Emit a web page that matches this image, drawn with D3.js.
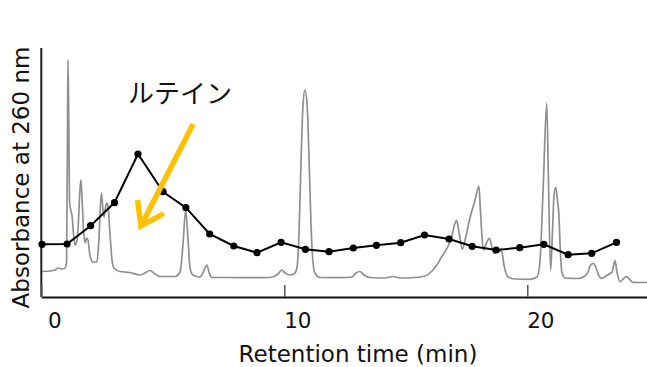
<!DOCTYPE html>
<html>
<head>
<meta charset="utf-8">
<script src="https://cdn.jsdelivr.net/npm/d3@7"></script>
<style>
  html, body { margin: 0; padding: 0; background: #fff; }
  svg { display: block; font-family: "DejaVu Sans", Verdana, sans-serif; }
</style>
</head>
<body>
<div class="chart"></div>
<script>
// chromatogram (gray trace): retention time (min) / absorbance (a.u.)
const traceTime = [0.03, 0.36, 0.56, 0.69, 0.85, 0.98, 1.04, 1.08, 1.10, 1.13, 1.16, 1.21, 1.26, 1.35, 1.39, 1.47, 1.51, 1.59, 1.63, 1.67,
  1.74, 1.80, 1.86, 1.92, 2.00, 2.13, 2.29, 2.37, 2.47, 2.52, 2.58, 2.64, 2.69, 2.74, 2.83, 2.91, 2.99, 3.24, 3.65, 4.06,
  4.27, 4.47, 4.68, 4.88, 5.50, 5.71, 5.83, 5.94, 6.04, 6.12, 6.24, 6.53, 6.65, 6.81, 6.90, 7.02, 7.77, 8.59, 9.41, 9.74,
  9.89, 10.03, 10.23, 10.40, 10.52, 10.61, 10.69, 10.77, 10.85, 10.94, 11.02, 11.10, 11.18, 11.26, 11.47, 12.29, 12.79, 12.95, 13.11, 13.28,
  13.53, 14.14, 14.47, 14.76, 15.38, 15.79, 16.08, 16.28, 16.48, 16.70, 16.89, 17.00, 17.09, 17.19, 17.33, 17.44, 17.64, 17.85, 18.01, 18.07,
  18.19, 18.30, 18.44, 18.55, 18.64, 18.79, 18.95, 19.04, 19.22, 19.49, 20.11, 20.40, 20.52, 20.65, 20.80, 20.87, 20.96, 21.04, 21.10, 21.17,
  21.24, 21.30, 21.35, 21.42, 21.55, 22.09, 22.33, 22.50, 22.58, 22.72, 22.83, 22.95, 23.06, 23.24, 23.36, 23.49, 23.61, 23.69, 23.82, 23.94,
  24.09, 24.23, 24.35, 24.93];
const traceAbs = [25.5, 26, 27, 29, 28, 29, 35, 177, 237, 177, 97, 87, 82, 57, 52, 57, 67, 107, 117, 102,
  67, 54, 59, 57, 42, 35, 35, 57, 104, 92, 80, 89, 94, 92, 62, 37, 29, 25.5, 24.5, 22,
  24, 26.5, 23, 20.5, 20.5, 25, 52, 87, 57, 29, 22, 20, 24, 32, 25, 19.5, 19.5, 19.3, 19.5, 23,
  27, 24, 22, 23, 29, 67, 137, 192, 207, 192, 137, 72, 35, 24, 19.5, 19.3, 20, 24, 25.5, 22,
  19.5, 19, 20.5, 19, 19.5, 21, 26, 32, 40.3, 49, 60.3, 72, 76.3, 65, 47.7, 57, 79, 97, 111, 87,
  47, 53, 58.7, 49, 43.7, 46, 45.3, 32, 19.7, 18, 17.7, 20, 35, 107, 193.7, 117, 27, 67, 102, 109.7,
  97, 82, 52, 25, 19, 18.5, 20.3, 25, 31, 33.7, 29, 21, 18.7, 21, 22.7, 25, 36.3, 25, 15.3, 18,
  20.3, 17, 14.7, 14.5];

// fractions (black line with dots)
const fracTime = [0.03, 1.06, 2.03, 3.01, 3.98, 5.01, 5.95, 6.93, 7.92, 8.88, 9.87, 10.87, 11.84, 12.84, 13.79, 14.79, 15.77, 16.78, 17.73,
  18.72, 19.69, 20.68, 21.68, 22.65, 23.67];
const fracValue = [52.7, 53, 71.3, 94.3, 143, 105.3, 89.3, 63, 51, 44.3, 54.7, 47.7, 45.3, 49, 51.7, 54.3, 62, 58, 50.7,
  47, 49.3, 52.7, 42.3, 43.7, 54.7];

const xTicks = [0, 10, 20];
const xDomain = [0, 25];
const yDomain = [0, 249];

const xTitle = 'Retention time (min)';
const yTitle = 'Absorbance at 260 nm';
const peakLabel = 'ルテイン';
// arrow: start / tip in data units
const arrowFrom = [6.25, 173];
const arrowTo = [4.1, 71];

const width = 647, height = 367;
const svg = d3.select('.chart').append('svg')
  .attr('width', width)
  .attr('height', height);

const x = d3.scaleLinear().domain(xDomain).range([41.3, 648.8]);
const y = d3.scaleLinear().domain(yDomain).range([297, 48]);

// gray chromatogram
const trace = traceTime.map((t, i) => [t, traceAbs[i]]);
svg.append('path')
  .datum(trace)
  .attr('fill', 'none')
  .attr('stroke', '#8f8f8f')
  .attr('stroke-width', 1.7)
  .attr('d', d3.line().x(d => x(d[0])).y(d => y(d[1])).curve(d3.curveMonotoneX));

// y axis line (no ticks)
svg.append('line')
  .attr('x1', x(0)).attr('x2', x(0))
  .attr('y1', y(yDomain[1])).attr('y2', y(0))
  .attr('stroke', '#222')
  .attr('stroke-width', 2);

// x axis, ticks point up into the plot
const xAxis = d3.axisBottom(x)
  .tickValues(xTicks)
  .tickSizeInner(-12)
  .tickSizeOuter(0)
  .tickPadding(16);

const gx = svg.append('g')
  .attr('transform', `translate(0,${y(0)})`)
  .call(xAxis);
gx.select('.domain').attr('stroke', '#111').attr('stroke-width', 2.2);
gx.selectAll('.tick line').attr('stroke', '#555').attr('stroke-width', 1.5);
gx.selectAll('.tick text')
  .attr('dx', 13)
  .attr('fill', '#111')
  .style('font-size', '21.5px')
  .style('font-family', '"DejaVu Sans", Verdana, sans-serif');

// fraction line + dots
const frac = fracTime.map((t, i) => [t, fracValue[i]]);
svg.append('path')
  .datum(frac)
  .attr('fill', 'none')
  .attr('stroke', '#000')
  .attr('stroke-width', 2)
  .attr('d', d3.line().x(d => x(d[0])).y(d => y(d[1])));

svg.selectAll('circle.dot')
  .data(frac)
  .enter()
  .append('circle')
  .attr('class', 'dot')
  .attr('cx', d => x(d[0]))
  .attr('cy', d => y(d[1]))
  .attr('r', 3.6)
  .attr('fill', '#000');

// annotation
svg.append('text')
  .attr('x', x(5.71))
  .attr('y', y(194))
  .attr('text-anchor', 'middle')
  .style('font-family', '"Noto Sans CJK JP", sans-serif')
  .style('font-size', '26px')
  .attr('fill', '#111')
  .text(peakLabel);

const ax0 = x(arrowFrom[0]), ay0 = y(arrowFrom[1]);
const ax1 = x(arrowTo[0]), ay1 = y(arrowTo[1]);
const ang = Math.atan2(ay1 - ay0, ax1 - ax0);
const headLen = 26, headAng = Math.PI / 5.2;
const wing = s => [ax1 - headLen * Math.cos(ang + s * headAng), ay1 - headLen * Math.sin(ang + s * headAng)];
const arrowColor = '#ffc000';
svg.append('line')
  .attr('x1', ax0).attr('y1', ay0)
  .attr('x2', ax1).attr('y2', ay1)
  .attr('stroke', arrowColor)
  .attr('stroke-width', 5.5);
svg.append('path')
  .attr('d', d3.line()([wing(1), [ax1, ay1], wing(-1)]))
  .attr('fill', 'none')
  .attr('stroke', arrowColor)
  .attr('stroke-width', 5.5)
  .attr('stroke-linejoin', 'miter');

// axis titles
svg.append('text')
  .attr('x', 358)
  .attr('y', 362)
  .attr('text-anchor', 'middle')
  .style('font-size', '23px')
  .attr('fill', '#111')
  .text(xTitle);

svg.append('text')
  .attr('transform', `translate(29,${(47 + 308) / 2}) rotate(-90)`)
  .attr('text-anchor', 'middle')
  .style('font-size', '23px')
  .attr('fill', '#111')
  .text(yTitle);
</script>
</body>
</html>
